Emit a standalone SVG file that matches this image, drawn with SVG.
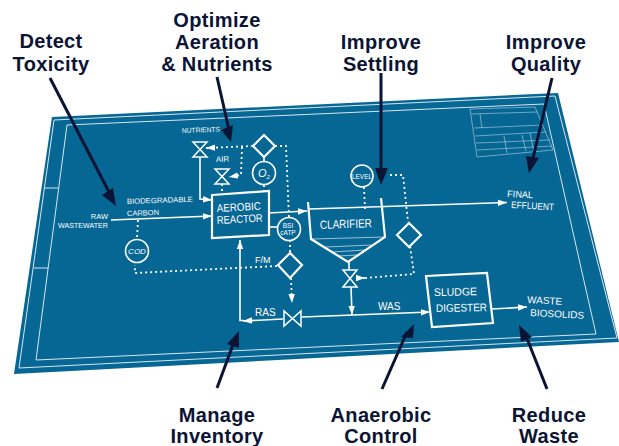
<svg xmlns="http://www.w3.org/2000/svg" width="619" height="446" viewBox="0 0 619 446">
<style>
.s{fill:none;stroke:#fff;stroke-width:2.2}
.v{fill:none;stroke:#fff;stroke-width:1.5}
.m{fill:none;stroke:#fff;stroke-width:1.6}
.t{fill:none;stroke:#d5e6ef;stroke-width:1}
.b{fill:none;stroke:#b9d3e0;stroke-width:.6}
.d{fill:none;stroke:#fff;stroke-width:1.8;stroke-dasharray:2 3}
.k{fill:none;stroke:#0b1434;stroke-width:3}
.h{fill:#0b1434}
.l{font-family:"Liberation Sans",Arial,sans-serif;font-weight:700;font-size:20px;letter-spacing:.35px;fill:#0b1434;text-anchor:middle}
.w{font-family:"Liberation Sans",Arial,sans-serif;fill:#fff;font-size:7.5px}
</style>
<defs>
<marker id="a" markerUnits="userSpaceOnUse" markerWidth="10" markerHeight="8" refX="9" refY="4" orient="auto"><path d="M0 .8L9 4L0 7.2z" fill="#fff"/></marker>
</defs>
<g id="sheet">
<path d="M52 117L558 93L619 342L14 374z" fill="#066694"/>
<path class="t" d="M54 120L555 96L617 338L19 368z"/>
<path class="t" d="M67 125L544 104L596 334L36 360z"/>
<path class="t" d="M44 188L58 188M34 268L48 268"/>
</g>
<g id="title-block">
<path class="b" d="M470 109L535 107L553 150L477 157zM471 114L537 112M474 128L543 125M475 136L546 132M476 143L550 140M477 150L552 146M480 114L482 128M504 136L507 153M530 133L534 152M522 135L526 151"/>
</g>
<g id="connectors">
<path class="m" d="M111 220L212 216" marker-end="url(#a)"/>
<path class="m" d="M200 157L200 199L212 200" marker-end="url(#a)"/>
<path class="m" d="M268 213L307 211" marker-end="url(#a)"/>
<path class="m" d="M268 227L278 227"/>
<path class="m" d="M264 157L264 162"/>
<path class="m" d="M309 209L507 202.500" marker-end="url(#a)"/>
<path class="m" d="M349 262L349 270"/>
<path class="m" d="M351 287L352 315" marker-end="url(#a)"/>
<path class="m" d="M357 278L365 278" marker-end="url(#a)"/>
<path class="m" d="M283 319L243 321" marker-end="url(#a)"/>
<path class="m" d="M244 320.500L240 320.500L240 240" marker-end="url(#a)"/>
<path class="m" d="M302 317L430 312" marker-end="url(#a)"/>
<path class="m" d="M492 309L527 307" marker-end="url(#a)"/>
<path class="d" d="M253 146L206 148" marker-end="url(#a)"/>
<path class="d" d="M242 147L241 175L229 177" marker-end="url(#a)"/>
<path class="d" d="M222 184L222 193"/>
<path class="d" d="M264 185L264 191"/>
<path class="d" d="M275 146L286 146L289 218"/>
<path class="d" d="M290 240L290 253"/>
<path class="d" d="M277 266L135 273L135 265"/>
<path class="d" d="M138 220L137 238"/>
<path class="d" d="M291 278L292 303" marker-end="url(#a)"/>
<path class="d" d="M364 187L365 210"/>
<path class="d" d="M390 175L403 175L408 222"/>
<path class="d" d="M365 278L414 274L410 246"/>
</g>
<g id="nutrient-valve"><path class="v" d="M193 142L207 142L193 157L207 157z"/></g>
<g id="air-valve"><path class="v" d="M215 169L229 169L215 184L229 184z"/></g>
<g id="nutrients-label"><text class="w" style="font-size:7px" x="182" y="133" textLength="38" lengthAdjust="spacingAndGlyphs" transform="rotate(-2 182 133)">NUTRIENTS</text></g>
<g id="air-label"><text class="w" style="font-size:8px" x="216" y="162" transform="rotate(-2 216 162)">AIR</text></g>
<g id="do-controller"><path class="s" d="M264 135L275 146L264 157L253 146z"/></g>
<g id="o2-sensor"><circle class="m" cx="264" cy="173" r="11.500"/><text class="w" style="font-size:11px;font-style:italic" x="258" y="177">O<tspan font-size="6" dy="2">2</tspan></text></g>
<g id="aerobic-reactor"><path class="s" d="M212 195L269 191L269 235L212 238z"/>
<text class="w" style="font-size:11px" x="217" y="212" textLength="44" lengthAdjust="spacingAndGlyphs" transform="rotate(-3 217 212)">AEROBIC</text>
<text class="w" style="font-size:11px" x="217" y="224" textLength="46" lengthAdjust="spacingAndGlyphs" transform="rotate(-3 217 224)">REACTOR</text></g>
<g id="bsi-sensor"><circle class="m" cx="289" cy="229" r="11.500"/>
<text class="w" style="font-size:6.500px;text-anchor:middle" x="288" y="228">BSI</text>
<text class="w" style="font-size:6.500px;text-anchor:middle" x="288" y="235">cATP</text></g>
<g id="clarifier"><path class="s" d="M308 202L311 239L348 262L385 237L381 198"/>
<path class="b" style="stroke:#fff" d="M312 239L385 237M325 247L372 245M332 252L365 250M338 256L357 255"/>
<text class="w" style="font-size:12px" x="320" y="229" textLength="52" lengthAdjust="spacingAndGlyphs" transform="rotate(-2 320 229)">CLARIFIER</text></g>
<g id="level-sensor"><circle class="m" cx="362" cy="176" r="11"/><text class="w" style="font-size:6.500px;text-anchor:middle" x="362" y="179">LEVEL</text></g>
<g id="level-controller"><path class="s" d="M409 223L421 235L409 247L397 235z"/></g>
<g id="was-valve"><path class="v" d="M343 270L357 270L343 287L357 287z"/></g>
<g id="fm-controller"><path class="s" d="M290 253L302 265L290 278L278 265z"/></g>
<g id="ras-valve"><path class="v" d="M284 311L284 326L301 311L301 326z"/></g>
<g id="cod-sensor"><circle class="m" cx="137" cy="251" r="11.500"/><text class="w" style="font-size:8px;font-style:italic;text-anchor:middle" x="137" y="254">COD</text></g>
<g id="sludge-digester"><path class="s" d="M426 276L487 273L493 323L432 327z"/>
<text class="w" style="font-size:11px" x="434" y="296" textLength="43" lengthAdjust="spacingAndGlyphs" transform="rotate(-1 434 296)">SLUDGE</text>
<text class="w" style="font-size:11px" x="436" y="312" textLength="51" lengthAdjust="spacingAndGlyphs" transform="rotate(-1 436 312)">DIGESTER</text></g>
<g id="flow-labels">
<text class="w" x="108" y="219" style="text-anchor:end">RAW</text>
<text class="w" x="58" y="228" textLength="50" lengthAdjust="spacingAndGlyphs">WASTEWATER</text>
<text class="w" x="127" y="204" textLength="66" lengthAdjust="spacingAndGlyphs" transform="rotate(-2 127 204)">BIODEGRADABLE</text>
<text class="w" x="127" y="216" transform="rotate(-2 127 216)">CARBON</text>
<text class="w" style="font-size:9px" x="255" y="263">F/M</text>
<text class="w" style="font-size:10px" x="255" y="316">RAS</text>
<text class="w" style="font-size:10px" x="378" y="310">WAS</text>
<text class="w" style="font-size:9.500px" x="507" y="197" textLength="26" lengthAdjust="spacingAndGlyphs" transform="rotate(3 507 197)">FINAL</text>
<text class="w" style="font-size:9.500px" x="511" y="208" textLength="43" lengthAdjust="spacingAndGlyphs" transform="rotate(3 511 208)">EFFLUENT</text>
<text class="w" style="font-size:10px" x="527" y="303" textLength="35" lengthAdjust="spacingAndGlyphs" transform="rotate(3 527 303)">WASTE</text>
<text class="w" style="font-size:10px" x="530" y="316" textLength="54" lengthAdjust="spacingAndGlyphs" transform="rotate(3 530 316)">BIOSOLIDS</text>
</g>
<g id="callouts">
<path class="k" d="M50 78L110 194M217 77L229 130M381 73L381 170M552 78L533 158M217 388L234 342M382 389L407 332M547 389L526 336"/>
<path class="h" d="M116 206L102 195L113 188zM231 142L221 130L233 125zM381 185L375 168L388 168zM529 173L526 156L539 158zM239 331L227 344L239 348zM414 324L401 337L413 338zM519 325L521 342L532 337z"/>
<text class="l" x="51" y="48">Detect</text><text class="l" x="51" y="71">Toxicity</text>
<text class="l" x="217" y="27">Optimize</text><text class="l" x="217" y="49">Aeration</text><text class="l" x="217" y="71">&amp; Nutrients</text>
<text class="l" x="381" y="49">Improve</text><text class="l" x="381" y="71">Settling</text>
<text class="l" x="546" y="49">Improve</text><text class="l" x="546" y="71">Quality</text>
<text class="l" x="217" y="422">Manage</text><text class="l" x="217" y="443">Inventory</text>
<text class="l" x="381" y="422">Anaerobic</text><text class="l" x="381" y="443">Control</text>
<text class="l" x="549" y="422">Reduce</text><text class="l" x="549" y="443">Waste</text>
</g>
</svg>
